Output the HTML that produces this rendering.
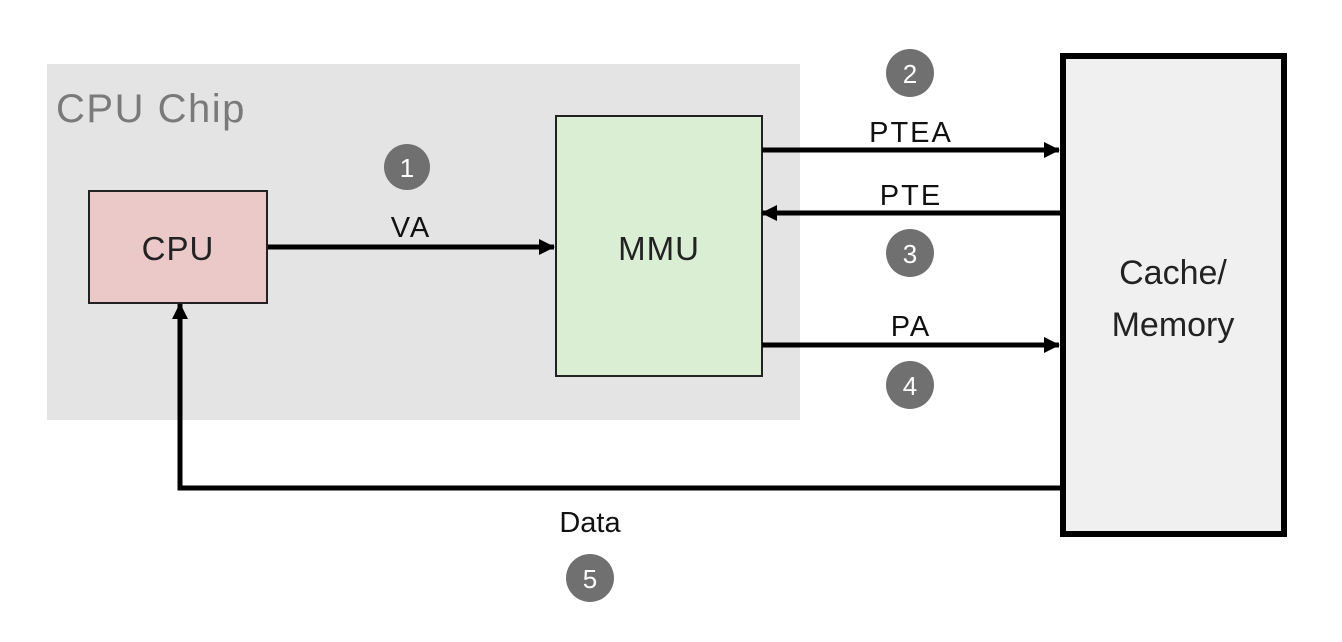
<!DOCTYPE html>
<html><head><style>
html,body{margin:0;padding:0;background:#fff;}
svg{display:block;}
text{font-family:"Liberation Sans",sans-serif;}
</style></head><body>
<svg width="1342" height="642" viewBox="0 0 1342 642" xmlns="http://www.w3.org/2000/svg">
<defs>
<marker id="a" markerWidth="18" markerHeight="18" refX="15" refY="9" orient="auto" markerUnits="userSpaceOnUse">
<path d="M0,1 L16,9 L0,17 z" fill="#000"/>
</marker>
</defs>
<rect x="47" y="64" width="753" height="356" fill="#e4e4e4"/>
<text x="56" y="122" font-size="40" fill="#7a7a7a" letter-spacing="1.5">CPU Chip</text>
<rect x="89" y="191" width="178" height="112" fill="#ebc9c9" stroke="#222" stroke-width="2"/>
<text x="178" y="260" font-size="33" text-anchor="middle" fill="#222" letter-spacing="1">CPU</text>
<rect x="556" y="116" width="206" height="260" fill="#d9eed3" stroke="#222" stroke-width="2"/>
<text x="659" y="260" font-size="33" text-anchor="middle" fill="#222" letter-spacing="1">MMU</text>
<rect x="1063" y="56" width="221" height="478" fill="#f0f0f0" stroke="#000" stroke-width="6"/>
<text x="1173" y="284" font-size="34" text-anchor="middle" fill="#222">Cache/</text>
<text x="1173" y="336" font-size="34" text-anchor="middle" fill="#222">Memory</text>
<g stroke="#000" stroke-width="5" fill="none">
<line x1="268" y1="247" x2="554" y2="247" marker-end="url(#a)"/>
<line x1="762" y1="150" x2="1059" y2="150" marker-end="url(#a)"/>
<line x1="1060" y1="213" x2="762" y2="213" marker-end="url(#a)"/>
<line x1="762" y1="345" x2="1059" y2="345" marker-end="url(#a)"/>
<polyline points="1060,488 180,488 180,304" marker-end="url(#a)"/>
</g>
<g font-size="29" fill="#111" text-anchor="middle" letter-spacing="2">
<text x="411" y="237">VA</text>
<text x="911" y="142">PTEA</text>
<text x="911" y="205">PTE</text>
<text x="911" y="336">PA</text>
<text x="590" y="532" letter-spacing="0">Data</text>
</g>
<g fill="#707070">
<circle cx="407" cy="167" r="23"/>
<circle cx="910" cy="73" r="24"/>
<circle cx="910" cy="253" r="24"/>
<circle cx="910" cy="385" r="24"/>
<circle cx="590" cy="578" r="24"/>
</g>
<g font-size="26" fill="#fff" text-anchor="middle">
<text x="407" y="177">1</text>
<text x="910" y="83">2</text>
<text x="910" y="263">3</text>
<text x="910" y="395">4</text>
<text x="590" y="588">5</text>
</g>
</svg>
</body></html>
